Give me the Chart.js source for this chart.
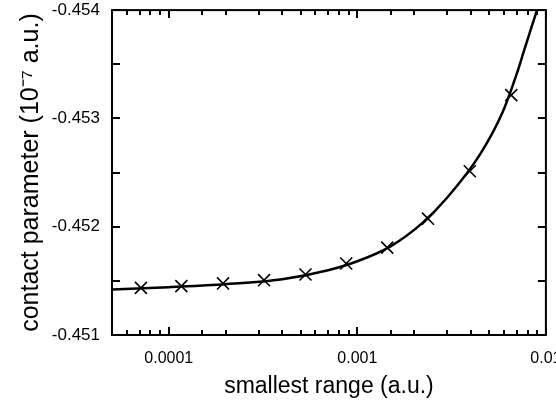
<!DOCTYPE html>
<html>
<head>
<meta charset="utf-8">
<script src="https://cdn.jsdelivr.net/npm/chart.js@4/dist/chart.umd.min.js"></script>
<style>
  html, body { margin: 0; padding: 0; background: #fff; }
  #wrap { width: 556px; height: 411px; }
</style>
</head>
<body>
<div id="wrap"><canvas id="chart" width="556" height="411"></canvas></div>
<script>
// computed points (crosses)
const rangeX = [7.12e-5, 1.166e-4, 1.94e-4, 3.2e-4, 5.31e-4, 8.73e-4, 1.44e-3, 2.37e-3, 3.95e-3, 6.55e-3];
const contactY = [-0.451435, -0.451451, -0.451476, -0.451506, -0.451559, -0.45166, -0.451807, -0.452074, -0.452512, -0.453215];

// fitted curve
const fitX = [5e-5, 1e-4, 2e-4, 4e-4, 7e-4, 1e-3, 1.5e-3, 2.2e-3, 3e-3, 4.5e-3, 5.94e-3, 7.03e-3, 7.65e-3, 8.97e-3];
const fitY = [-0.45142, -0.451442, -0.451469, -0.451515, -0.451598, -0.451681, -0.451819, -0.452031, -0.45227, -0.452675, -0.453071, -0.45342, -0.453623, -0.454];

const xTickValues = [0.0001, 0.001, 0.01];
const xTickLabels = ["0.0001", "0.001", "0.01"];
const yTickValues = [-0.454, -0.453, -0.452, -0.451];
const yTickLabels = ["-0.454", "-0.453", "-0.452", "-0.451"];

const FONT = "'Liberation Sans', Arial, Helvetica, sans-serif";

const toPoints = (xs, ys) => xs.map((x, i) => ({ x: x, y: ys[i] }));

// gnuplot style frame with inward ticks on all four sides
const frameTicks = {
  id: "frameTicks",
  afterDraw(chart) {
    const { ctx, chartArea: a, scales } = chart;
    ctx.save();
    ctx.strokeStyle = "#000";
    ctx.lineWidth = 2;
    ctx.beginPath();
    scales.x.ticks.forEach((t) => {
      const px = Math.round(scales.x.getPixelForValue(t.value));
      const e = Math.log10(t.value);
      const len = Math.abs(e - Math.round(e)) < 1e-6 ? 8 : 5;
      ctx.moveTo(px, a.bottom);
      ctx.lineTo(px, a.bottom - len);
      ctx.moveTo(px, a.top);
      ctx.lineTo(px, a.top + len);
    });
    scales.y.ticks.forEach((t) => {
      const py = Math.round(scales.y.getPixelForValue(t.value));
      ctx.moveTo(a.left, py);
      ctx.lineTo(a.left + 8, py);
      ctx.moveTo(a.right, py);
      ctx.lineTo(a.right - 8, py);
    });
    ctx.stroke();
    ctx.lineWidth = 2;
    ctx.strokeRect(a.left, a.top, a.right - a.left, a.bottom - a.top);
    ctx.restore();
  },
};

const config = {
  type: "scatter",
  data: {
    datasets: [
      {
        label: "fit",
        data: toPoints(fitX, fitY),
        showLine: true,
        borderColor: "#000",
        borderWidth: 2.5,
        pointRadius: 0,
        cubicInterpolationMode: "monotone",
        fill: false,
      },
      {
        label: "computed",
        data: toPoints(rangeX, contactY),
        showLine: false,
        pointStyle: "crossRot",
        pointRadius: 8.5,
        borderColor: "#000",
        backgroundColor: "#000",
        pointBorderWidth: 1.6,
      },
    ],
  },
  options: {
    responsive: false,
    animation: false,
    layout: { padding: { top: 9, right: 8, left: 0, bottom: 0 } },
    plugins: { legend: { display: false }, tooltip: { enabled: false } },
    scales: {
      x: {
        type: "logarithmic",
        min: 5e-5,
        max: 0.01,
        grid: { display: false, drawTicks: false },
        border: { display: false },
        ticks: {
          autoSkip: false,
          maxRotation: 0,
          padding: 14,
          color: "#000",
          font: { family: FONT, size: 16 },
          callback: (v) => {
            const i = xTickValues.findIndex((t) => Math.abs(Math.log10(v) - Math.log10(t)) < 1e-6);
            return i >= 0 ? xTickLabels[i] : "";
          },
        },
        title: {
          display: true,
          text: "smallest range (a.u.)",
          color: "#000",
          font: { family: FONT, size: 23 },
          padding: { top: 0, bottom: 11 },
        },
        afterFit: (s) => {
          s.height = 76;
          s.paddingLeft = 0;
          s.paddingRight = 0;
        },
      },
      y: {
        reverse: true,
        min: -0.454,
        max: -0.451,
        grid: { display: false, drawTicks: false },
        border: { display: false },
        ticks: {
          stepSize: 0.0005,
          padding: 12,
          color: "#000",
          font: { family: FONT, size: 17 },
          callback: (v) => {
            const i = yTickValues.findIndex((t) => Math.abs(v - t) < 1e-7);
            return i >= 0 ? yTickLabels[i] : "";
          },
        },
        title: {
          display: true,
          text: "contact parameter (10\u207B\u2077 a.u.)",
          color: "#000",
          font: { family: FONT, size: 25 },
          padding: { top: 16, bottom: 0 },
        },
        afterFit: (s) => {
          s.width = 112;
          s.paddingTop = 0;
          s.paddingBottom = 0;
        },
      },
    },
  },
  plugins: [frameTicks],
};

const chart = new Chart(document.getElementById("chart"), config);
</script>
</body>
</html>
